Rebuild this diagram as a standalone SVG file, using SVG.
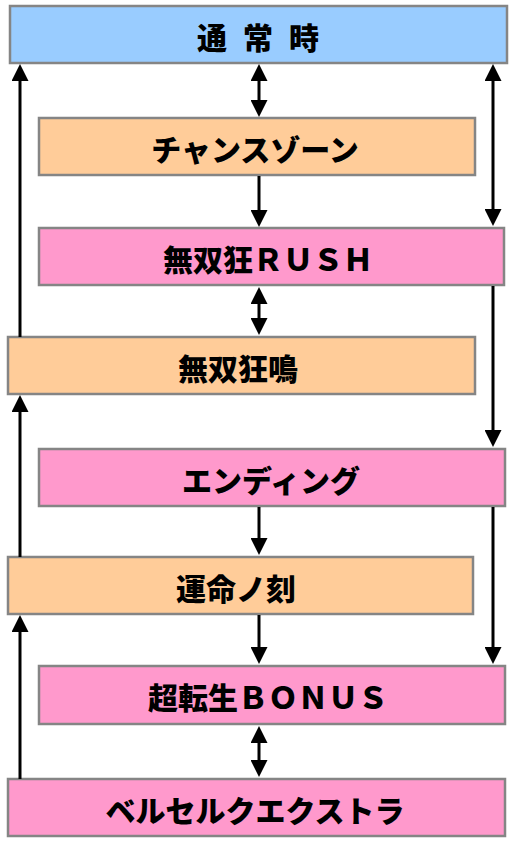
<svg xmlns="http://www.w3.org/2000/svg" width="517" height="842" viewBox="0 0 517 842">
<style>
.box{stroke:#858585;stroke-width:2.5}
.blue{fill:#99CCFF}.orange{fill:#FFCC99}.pink{fill:#FF99CC}
.t{font-family:"Noto Sans CJK JP","Noto Sans",sans-serif;font-weight:900;font-size:30px;fill:#000;text-anchor:middle}
.c{stroke:#000;stroke-width:3;fill:none;marker-end:url(#ah)}
.d{marker-start:url(#ah)}
</style>
<defs>
<marker id="ah" viewBox="0 0 17 17" refX="0" refY="8.5" markerWidth="17" markerHeight="17" markerUnits="userSpaceOnUse" orient="auto-start-reverse">
<path d="M0,0 L17,8.5 L0,17 z" fill="#000"/>
</marker>
</defs>
<g id="n1"><rect class="box blue" x="10" y="6" width="497" height="57"/><text class="t" x="212 235 258 281 304" y="49">通 常 時</text></g>
<g id="n2"><rect class="box orange" x="39" y="118" width="436" height="57"/><text class="t" x="255" y="161">チャンスゾーン</text></g>
<g id="n3"><rect class="box pink" x="39" y="228" width="465" height="57"/><text class="t" x="268" y="271">無双狂ＲＵＳＨ</text></g>
<g id="n4"><rect class="box orange" x="8" y="337" width="467" height="57"/><text class="t" x="238" y="380">無双狂鳴</text></g>
<g id="n5"><rect class="box pink" x="39" y="449" width="466" height="57"/><text class="t" x="271" y="492">エンディング</text></g>
<g id="n6"><rect class="box orange" x="8" y="557" width="465" height="57"/><text class="t" x="236" y="600">運命ノ刻</text></g>
<g id="n7"><rect class="box pink" x="39" y="666" width="466" height="58"/><text class="t" x="268" y="709">超転生ＢＯＮＵＳ</text></g>
<g id="n8"><rect class="box pink" x="8" y="779" width="497" height="57"/><text class="t" x="255" y="822">ベルセルクエクストラ</text></g>
<g id="connectors">
<line class="c d" x1="259" y1="81" x2="259" y2="100"/>
<line class="c" x1="259" y1="176" x2="259" y2="210"/>
<line class="c d" x1="259" y1="304" x2="259" y2="318"/>
<line class="c" x1="259" y1="507" x2="259" y2="538"/>
<line class="c" x1="259" y1="615" x2="259" y2="647"/>
<line class="c d" x1="259" y1="743" x2="259" y2="760"/>
<line class="c d" x1="493" y1="81" x2="493" y2="209"/>
<line class="c" x1="493" y1="286" x2="493" y2="430"/>
<line class="c" x1="493" y1="507" x2="493" y2="647"/>
<line class="c" x1="20" y1="337" x2="20" y2="81"/>
<line class="c" x1="20" y1="557" x2="20" y2="412"/>
<line class="c" x1="20" y1="779" x2="20" y2="632"/>
</g>
</svg>
